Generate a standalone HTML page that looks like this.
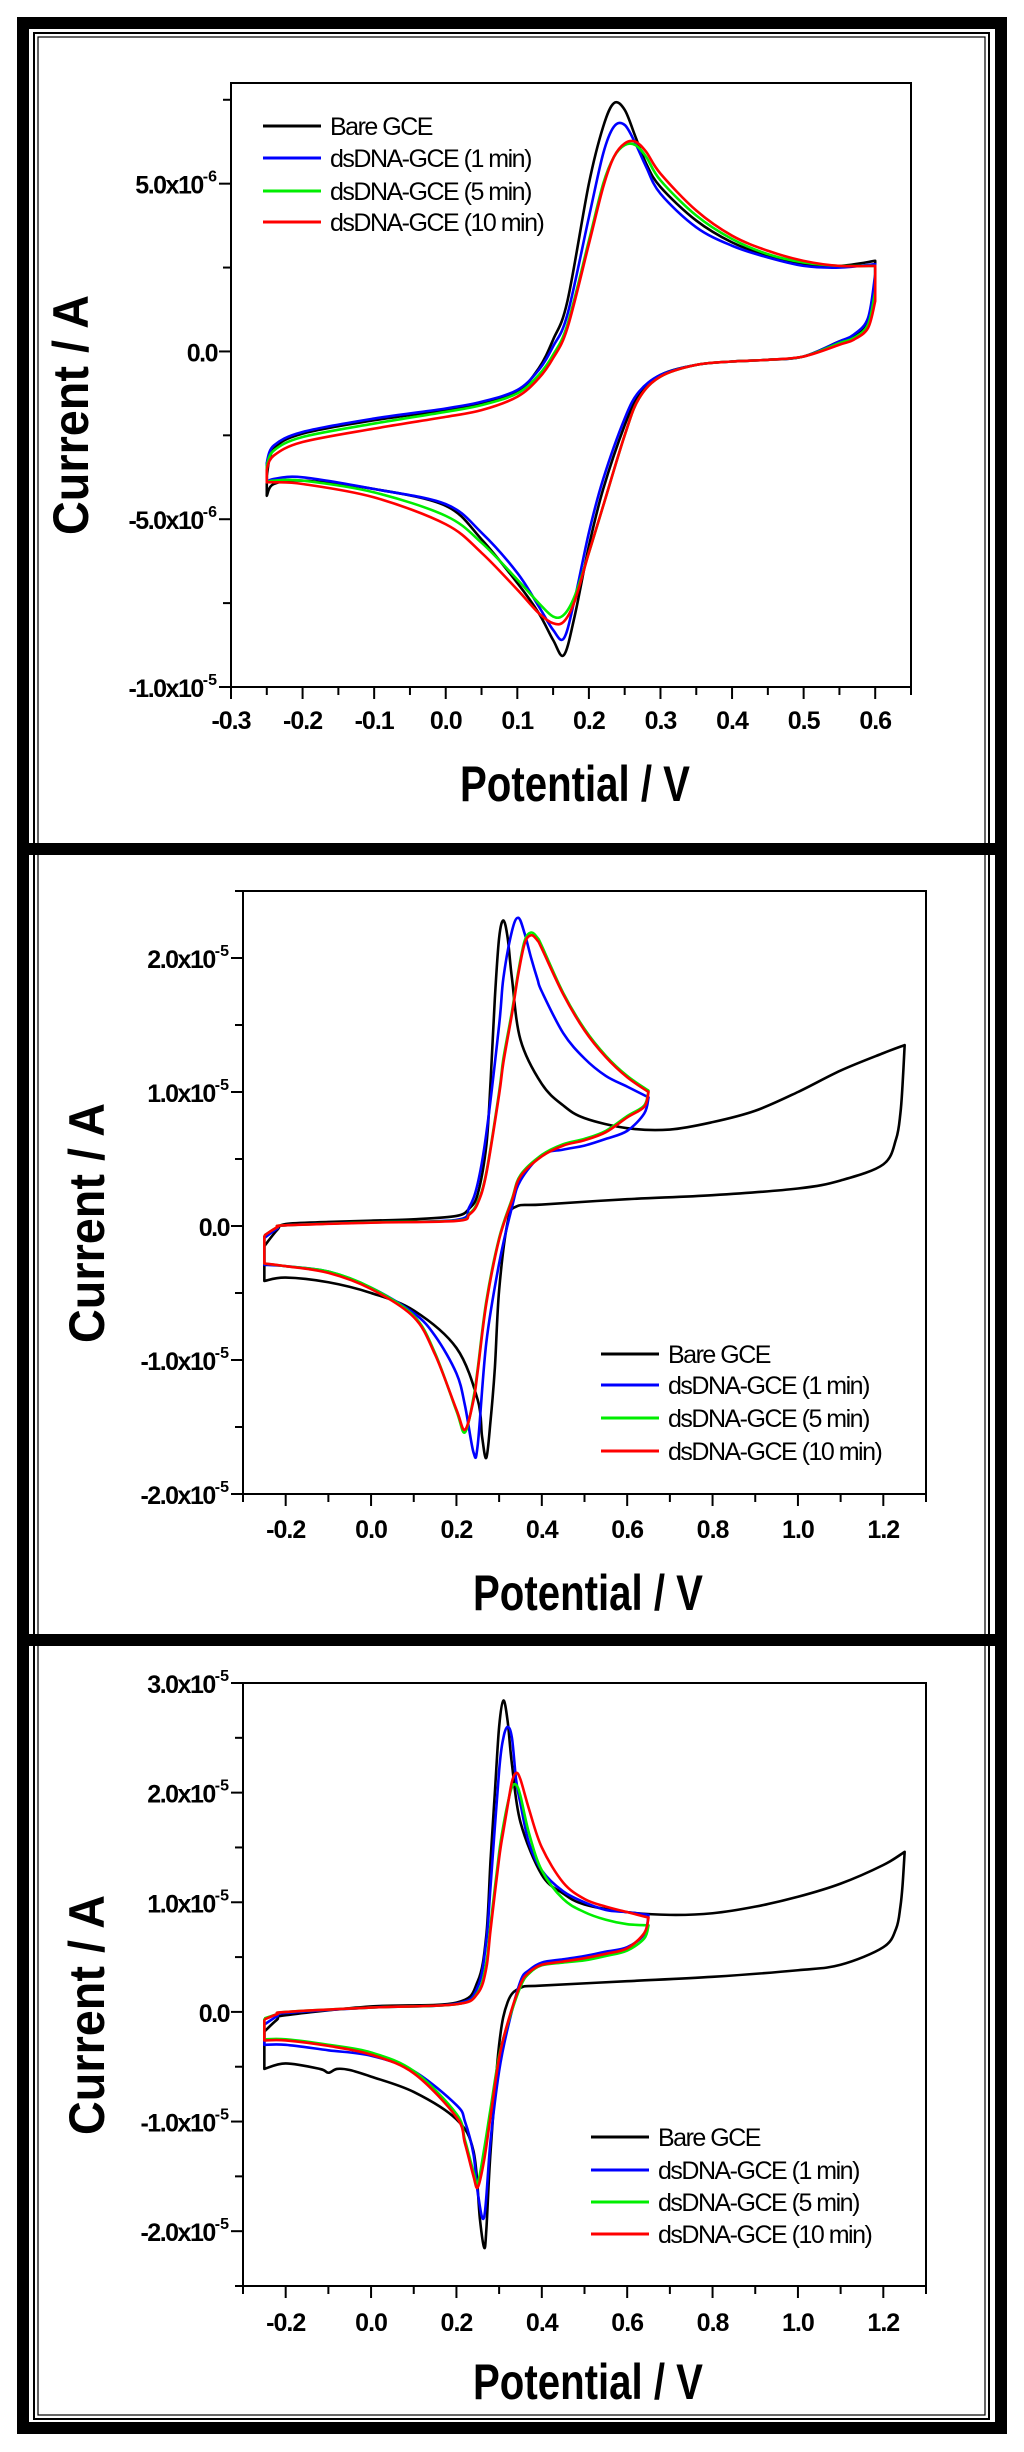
<!DOCTYPE html>
<html><head><meta charset="utf-8">
<style>
html,body{margin:0;padding:0;background:#fff;}
svg{display:block;}
text{font-family:"Liberation Sans",Arial,sans-serif;}
</style></head>
<body>
<svg id="fig" width="1024" height="2452" viewBox="0 0 1024 2452" xmlns="http://www.w3.org/2000/svg">
  <rect x="0" y="0" width="1024" height="2452" fill="#fff"/>
  <rect x="23" y="23" width="978" height="2405" fill="none" stroke="#000" stroke-width="12"/>
  <rect x="34" y="33" width="955" height="2386" fill="none" stroke="#000" stroke-width="2"/>
  <rect x="38" y="37" width="947" height="2378" fill="none" stroke="#000" stroke-width="1.2"/>
  <rect x="17" y="843" width="990" height="12" fill="#000"/>
  <rect x="17" y="1634" width="990" height="12" fill="#000"/>
  <g id="p1"></g>
  <g id="p2"></g>
  <g id="p3"></g>
</svg>
<script>
// ===== Panel 1 data (current in 1e-6 A) =====
const p1Fwd = [-0.25,-0.24,-0.2,-0.1,0,0.05,0.1,0.13,0.15,0.17,0.2,0.22,0.235,0.25,0.265,0.28,0.3,0.35,0.4,0.45,0.5,0.55,0.6];
const p1Rev = [0.6,0.59,0.57,0.55,0.5,0.45,0.4,0.35,0.3,0.27,0.25,0.22,0.2,0.18,0.165,0.15,0.13,0.1,0.05,0,-0.1,-0.2,-0.24,-0.25];
const p1BareFwd = [-3.7,-2.9,-2.45,-2.05,-1.75,-1.55,-1.2,-0.5,0.35,1.5,5.0,6.7,7.4,7.2,6.4,5.6,4.9,3.9,3.25,2.85,2.6,2.55,2.7];
const p1BareRev = [2.0,0.9,0.45,0.3,-0.15,-0.25,-0.3,-0.4,-0.7,-1.3,-2.2,-4.1,-5.8,-7.9,-9.05,-8.6,-7.8,-6.9,-5.6,-4.6,-4.1,-3.85,-3.95,-4.3];
const p1Min1Fwd = [-3.3,-2.8,-2.4,-2.0,-1.7,-1.5,-1.15,-0.55,0.15,1.1,4.0,5.9,6.7,6.75,6.2,5.5,4.7,3.7,3.15,2.8,2.55,2.5,2.6];
const p1Min1Rev = [2.3,1.0,0.5,0.3,-0.15,-0.25,-0.3,-0.4,-0.7,-1.2,-2.0,-3.8,-5.4,-7.4,-8.55,-8.3,-7.6,-6.6,-5.4,-4.55,-4.1,-3.75,-3.8,-3.9];
const p1Min5Fwd = [-3.4,-2.95,-2.55,-2.15,-1.8,-1.6,-1.25,-0.7,-0.1,0.8,3.3,5.0,5.8,6.15,6.15,5.8,5.1,4.05,3.35,2.9,2.65,2.55,2.55];
const p1Min5Rev = [1.8,0.8,0.4,0.25,-0.15,-0.25,-0.3,-0.4,-0.75,-1.4,-2.5,-4.6,-6.0,-7.3,-7.85,-7.9,-7.5,-6.8,-5.7,-4.9,-4.2,-3.85,-3.85,-3.9];
const p1Min10Fwd = [-3.5,-3.1,-2.7,-2.3,-1.95,-1.75,-1.35,-0.8,-0.2,0.7,3.2,4.9,5.8,6.2,6.25,5.95,5.3,4.2,3.45,3.0,2.7,2.55,2.55];
const p1Min10Rev = [1.5,0.7,0.35,0.2,-0.15,-0.25,-0.3,-0.4,-0.75,-1.4,-2.5,-4.6,-6.0,-7.45,-8.05,-8.1,-7.8,-7.1,-6.0,-5.15,-4.35,-3.95,-3.9,-3.9];
const p1XTicks = [-0.3,-0.2,-0.1,0.0,0.1,0.2,0.3,0.4,0.5,0.6];
const p1XLabels = ["-0.3","-0.2","-0.1","0.0","0.1","0.2","0.3","0.4","0.5","0.6"];
const p1YTicks = [5,0,-5,-10];
const p1YLabels = [["5.0x10","-6"],["0.0",""],["-5.0x10","-6"],["-1.0x10","-5"]];

// ===== Panel 2 data (current in 1e-6 A) =====
const p2BareFwdV = [-0.25,-0.22,-0.2,-0.1,0,0.1,0.2,0.23,0.25,0.27,0.28,0.29,0.3,0.31,0.32,0.33,0.35,0.4,0.45,0.5,0.6,0.7,0.8,0.9,1.0,1.1,1.2,1.25];
const p2BareFwd = [-1.5,-0.3,0.15,0.3,0.4,0.5,0.75,1.3,2.4,6.0,10.8,17,21.5,22.8,21.5,18.5,13.9,10.6,9.0,8.05,7.3,7.2,7.75,8.6,10.0,11.6,12.9,13.5];
const p2BareRevV = [1.25,1.245,1.24,1.23,1.2,1.1,1.0,0.8,0.6,0.4,0.34,0.32,0.3,0.29,0.28,0.27,0.26,0.25,0.2,0.1,0,-0.1,-0.2,-0.25];
const p2BareRev = [13.5,10.5,8.4,6.5,4.6,3.4,2.8,2.3,2.0,1.6,1.45,0.3,-4.8,-10.6,-14.5,-17.3,-15.7,-13,-9.1,-6.3,-5.0,-4.2,-3.85,-4.1];
const p2Fwd = [-0.25,-0.22,-0.2,0,0.2,0.23,0.25,0.27,0.3,0.31,0.33,0.345,0.36,0.375,0.39,0.4,0.45,0.5,0.55,0.6,0.65];
const p2Rev = [0.65,0.64,0.6,0.55,0.5,0.45,0.4,0.35,0.33,0.3,0.27,0.25,0.24,0.22,0.2,0.15,0.1,0,-0.1,-0.2,-0.25];
const p2Min1Fwd = [-0.9,-0.2,0.05,0.27,0.45,1.4,3.2,6.9,15,18.5,22,23,21.8,20.0,18.4,17.5,14.4,12.5,11.2,10.4,9.6];
const p2Min1Rev = [9.6,8.4,7.1,6.5,6.0,5.7,5.3,3.4,1.4,-2.8,-8.7,-16.3,-16.9,-13.4,-11,-8.2,-6.5,-4.6,-3.4,-3.0,-2.9];
const p2Min5Fwd = [-0.7,-0.1,0.05,0.27,0.4,0.9,1.8,4.0,10.0,12.5,16,19,21.3,21.9,21.5,20.9,17.4,14.7,12.7,11.2,10.1];
const p2Min5Rev = [10.1,9.0,8.2,7.1,6.5,6.1,5.3,3.8,2.0,-0.9,-5.6,-10.6,-12.8,-15.4,-13.8,-9.5,-6.7,-4.6,-3.4,-3.0,-2.8];
const p2Min10Fwd = [-0.7,-0.1,0.05,0.25,0.38,0.85,1.7,3.9,9.8,12.2,15.8,18.8,21.1,21.7,21.3,20.7,17.3,14.6,12.6,11.1,10.0];
const p2Min10Rev = [10.0,8.9,8.1,7.0,6.4,6.0,5.2,3.7,1.9,-1.0,-5.8,-10.8,-13.0,-15.2,-13.7,-9.6,-6.8,-4.7,-3.5,-3.0,-2.8];
const p2XTicks = [-0.2,0.0,0.2,0.4,0.6,0.8,1.0,1.2];
const p2XLabels = ["-0.2","0.0","0.2","0.4","0.6","0.8","1.0","1.2"];
const p2YTicks = [20,10,0,-10,-20];
const p2YLabels = [["2.0x10","-5"],["1.0x10","-5"],["0.0",""],["-1.0x10","-5"],["-2.0x10","-5"]];

// ===== Panel 3 data (current in 1e-6 A) =====
const p3BareFwdV = [-0.25,-0.22,-0.2,0,0.2,0.25,0.27,0.28,0.29,0.3,0.31,0.32,0.33,0.35,0.4,0.45,0.5,0.6,0.7,0.8,0.9,1.0,1.1,1.2,1.25];
const p3BareFwd = [-1.8,-0.7,-0.3,0.5,0.85,2.8,7,13.9,20,26,28.4,26.5,22.6,17.3,12.5,10.8,9.8,9.1,8.85,9.0,9.6,10.5,11.7,13.4,14.6];
const p3BareRevV = [1.25,1.245,1.24,1.23,1.2,1.1,1.0,0.8,0.6,0.4,0.35,0.32,0.3,0.28,0.27,0.265,0.255,0.24,0.2,0.1,0,-0.05,-0.08,-0.1,-0.12,-0.2,-0.25];
const p3BareRev = [14.6,11.5,9.6,7.6,5.9,4.3,3.8,3.2,2.8,2.4,2.2,0.9,-3,-12.7,-19.9,-21.5,-18.9,-12.7,-9.8,-7.3,-5.9,-5.3,-5.2,-5.55,-5.2,-4.7,-5.2];
const p3Fwd = [-0.25,-0.22,-0.2,0,0.2,0.25,0.27,0.28,0.3,0.31,0.32,0.33,0.34,0.35,0.37,0.4,0.45,0.5,0.55,0.6,0.65];
const p3Rev = [0.65,0.64,0.6,0.55,0.5,0.45,0.4,0.37,0.35,0.32,0.3,0.28,0.265,0.25,0.24,0.22,0.2,0.1,0,-0.1,-0.2,-0.25];
const p3Min1Fwd = [-1.15,-0.4,-0.1,0.4,0.75,2.3,6.5,11.5,22,25,26,25,21.1,19,15.4,12.9,11,10,9.3,9.1,8.85];
const p3Min1Rev = [8.85,7.1,5.9,5.5,5.1,4.8,4.5,3.8,2.8,-1.5,-5.4,-11.7,-18.7,-16.5,-13.0,-10.0,-8.5,-5.4,-4.0,-3.5,-3.0,-3.0];
const p3Min5Fwd = [-0.6,-0.2,0,0.4,0.7,1.8,4.5,8,14.5,17,19,20.5,20.7,19.7,16.3,12.9,10.3,9.1,8.4,8.0,7.9];
const p3Min5Rev = [7.9,6.7,5.6,5.1,4.7,4.5,4.25,3.5,2.3,-1.1,-4.0,-8.8,-12.5,-15.6,-14.6,-11.7,-9.3,-5.4,-3.7,-3.0,-2.5,-2.5];
const p3Min10Fwd = [-0.7,-0.2,0,0.4,0.7,1.7,4,7.5,14,16.5,18.8,21,21.8,21.2,18.5,15.0,11.8,10.3,9.6,9.1,8.6];
const p3Min10Rev = [8.6,7.2,5.8,5.3,4.9,4.6,4.3,3.6,2.5,-1.0,-4.2,-9.5,-13.5,-16.0,-15.0,-12.0,-9.6,-5.6,-3.9,-3.1,-2.6,-2.6];
const p3XTicks = [-0.2,0.0,0.2,0.4,0.6,0.8,1.0,1.2];
const p3XLabels = ["-0.2","0.0","0.2","0.4","0.6","0.8","1.0","1.2"];
const p3YTicks = [30,20,10,0,-10,-20];
const p3YLabels = [["3.0x10","-5"],["2.0x10","-5"],["1.0x10","-5"],["0.0",""],["-1.0x10","-5"],["-2.0x10","-5"]];

const legendNames = ["Bare GCE","dsDNA-GCE (1 min)","dsDNA-GCE (5 min)","dsDNA-GCE (10 min)"];
const seriesColors = ["#000000","#0000ff","#00ee00","#ff0000"];

const NS = "http://www.w3.org/2000/svg";
function mk(parent, tag, attrs){
  const e = document.createElementNS(NS, tag);
  for (const k in attrs) e.setAttribute(k, attrs[k]);
  parent.appendChild(e);
  return e;
}
function smoothPath(pts){
  let d = "M" + pts[0][0].toFixed(2) + "," + pts[0][1].toFixed(2);
  for (let i=0;i<pts.length-1;i++){
    const p0 = pts[Math.max(0,i-1)], p1 = pts[i], p2 = pts[i+1], p3 = pts[Math.min(pts.length-1,i+2)];
    const c1x = p1[0]+(p2[0]-p0[0])/6, c1y = p1[1]+(p2[1]-p0[1])/6;
    const c2x = p2[0]-(p3[0]-p1[0])/6, c2y = p2[1]-(p3[1]-p1[1])/6;
    d += " C"+c1x.toFixed(2)+","+c1y.toFixed(2)+" "+c2x.toFixed(2)+","+c2y.toFixed(2)+" "+p2[0].toFixed(2)+","+p2[1].toFixed(2);
  }
  return d;
}

function drawPanel(g, cfg){
  const sx = v => cfg.left + (v - cfg.xmin)/(cfg.xmax - cfg.xmin)*(cfg.right - cfg.left);
  const sy = v => cfg.bottom - (v - cfg.ymin)/(cfg.ymax - cfg.ymin)*(cfg.bottom - cfg.top);

  cfg.series.forEach((s, i) => {
    const pts = [];
    s.fv.forEach((v,k)=>pts.push([sx(v), sy(s.fi[k])]));
    const pts2 = [];
    s.rv.forEach((v,k)=>pts2.push([sx(v), sy(s.ri[k])]));
    const d = smoothPath(pts) + " " + smoothPath(pts2).replace("M","L") + " L" + pts[0][0].toFixed(2)+","+pts[0][1].toFixed(2);
    const p = mk(g, "path", {d:d, fill:"none", stroke:seriesColors[i], "stroke-width":"2.6", "stroke-linejoin":"round"});
    
    
  });

  const fr = mk(g, "rect", {x:cfg.left, y:cfg.top, width:cfg.right-cfg.left, height:cfg.bottom-cfg.top, fill:"none", stroke:"#000", "stroke-width":"2"});
  
  

  const xt = mk(g, "g", {});
  
  
  for (let v = cfg.xmin; v <= cfg.xmax + 1e-9; v += cfg.xminor){
    const isMajor = cfg.xTicks.some(t => Math.abs(t - v) < 1e-6);
    const x = sx(v);
    mk(xt, "line", {x1:x, x2:x, y1:cfg.bottom, y2:cfg.bottom + (isMajor?12:8), stroke:"#000", "stroke-width":"2"});
  }
  cfg.xTicks.forEach((t,k) => {
    const tx = mk(g, "text", {x:sx(t), y:cfg.bottom + cfg.xLabelDy, "text-anchor":"middle", "font-size":"25", "font-weight":"bold", "letter-spacing":"-1"});
    tx.textContent = cfg.xLabels[k];
    
    
  });

  const yt = mk(g, "g", {});
  
  
  for (let v = cfg.ymin; v <= cfg.ymax + 1e-9; v += cfg.yminor){
    const isMajor = cfg.yTicks.some(t => Math.abs(t - v) < 1e-6);
    const y = sy(v);
    mk(yt, "line", {x1:cfg.left, x2:cfg.left - (isMajor?12:8), y1:y, y2:y, stroke:"#000", "stroke-width":"2"});
  }
  cfg.yTicks.forEach((t,k) => {
    const lab = cfg.yLabels[k];
    const tx = mk(g, "text", {x:cfg.left - 14, y:sy(t) + 10, "text-anchor":"end", "font-size":"25", "font-weight":"bold", "letter-spacing":"-1.5"});
    
    
    const t1 = mk(tx, "tspan", {});
    t1.textContent = lab[0];
    if (lab[1]){
      const t2 = mk(tx, "tspan", {dy:"-12", "font-size":"16", "letter-spacing":"0"});
      t2.textContent = lab[1];
    }
  });

  const xtitle = mk(g, "text", {x:cfg.xTitleX, y:cfg.xTitleY, "text-anchor":"middle", "font-size":"50", "font-weight":"bold", textLength:"230", lengthAdjust:"spacingAndGlyphs"});
  xtitle.textContent = "Potential / V";
  
  
  const ytitle = mk(g, "text", {x:0, y:0, transform:"translate("+cfg.yTitleX+","+cfg.yTitleY+") rotate(-90)", "text-anchor":"middle", "font-size":"50", "font-weight":"bold", textLength:"240", lengthAdjust:"spacingAndGlyphs"});
  ytitle.textContent = "Current / A";
  
  

  const lg = mk(g, "g", {});
  
  
  legendNames.forEach((n,k) => {
    const y = cfg.legY[k];
    const ln = mk(lg, "line", {x1:cfg.legX, x2:cfg.legX+58, y1:y, y2:y, stroke:seriesColors[k], "stroke-width":"3"});
    
    
    const tx = mk(lg, "text", {x:cfg.legX+67, y:y+9, "font-size":"25", "letter-spacing":"-1.5"});
    tx.textContent = n;
    
    
  });
}

drawPanel(document.getElementById("p1"), {
  left:231, right:911, top:83, bottom:687, xmin:-0.3, xmax:0.65, ymin:-10, ymax:8,
  xminor:0.05, yminor:2.5, xTicks:p1XTicks, xLabels:p1XLabels, yTicks:p1YTicks, yLabels:p1YLabels,
  xLabelDy:42, xTitleX:575, xTitleY:801, yTitleX:88, yTitleY:415,
  legX:263, legY:[126,158,191,222],
  series:[
    {key:"bare", fv:p1Fwd, fi:p1BareFwd, rv:p1Rev, ri:p1BareRev},
    {key:"1min", fv:p1Fwd, fi:p1Min1Fwd, rv:p1Rev, ri:p1Min1Rev},
    {key:"5min", fv:p1Fwd, fi:p1Min5Fwd, rv:p1Rev, ri:p1Min5Rev},
    {key:"10min", fv:p1Fwd, fi:p1Min10Fwd, rv:p1Rev, ri:p1Min10Rev}
  ]
});
drawPanel(document.getElementById("p2"), {
  left:243, right:926, top:891, bottom:1494, xmin:-0.3, xmax:1.3, ymin:-20, ymax:25,
  xminor:0.1, yminor:5, xTicks:p2XTicks, xLabels:p2XLabels, yTicks:p2YTicks, yLabels:p2YLabels,
  xLabelDy:44, xTitleX:588, xTitleY:1610, yTitleX:104, yTitleY:1223,
  legX:601, legY:[1354,1385,1418,1451],
  series:[
    {key:"bare", fv:p2BareFwdV, fi:p2BareFwd, rv:p2BareRevV, ri:p2BareRev},
    {key:"1min", fv:p2Fwd, fi:p2Min1Fwd, rv:p2Rev, ri:p2Min1Rev},
    {key:"5min", fv:p2Fwd, fi:p2Min5Fwd, rv:p2Rev, ri:p2Min5Rev},
    {key:"10min", fv:p2Fwd, fi:p2Min10Fwd, rv:p2Rev, ri:p2Min10Rev}
  ]
});
drawPanel(document.getElementById("p3"), {
  left:243, right:926, top:1683, bottom:2286, xmin:-0.3, xmax:1.3, ymin:-25, ymax:30,
  xminor:0.1, yminor:5, xTicks:p3XTicks, xLabels:p3XLabels, yTicks:p3YTicks, yLabels:p3YLabels,
  xLabelDy:45, xTitleX:588, xTitleY:2399, yTitleX:104, yTitleY:2015,
  legX:591, legY:[2137,2170,2202,2234],
  series:[
    {key:"bare", fv:p3BareFwdV, fi:p3BareFwd, rv:p3BareRevV, ri:p3BareRev},
    {key:"1min", fv:p3Fwd, fi:p3Min1Fwd, rv:p3Rev, ri:p3Min1Rev},
    {key:"5min", fv:p3Fwd, fi:p3Min5Fwd, rv:p3Rev, ri:p3Min5Rev},
    {key:"10min", fv:p3Fwd, fi:p3Min10Fwd, rv:p3Rev, ri:p3Min10Rev}
  ]
});
</script>
</body></html>
